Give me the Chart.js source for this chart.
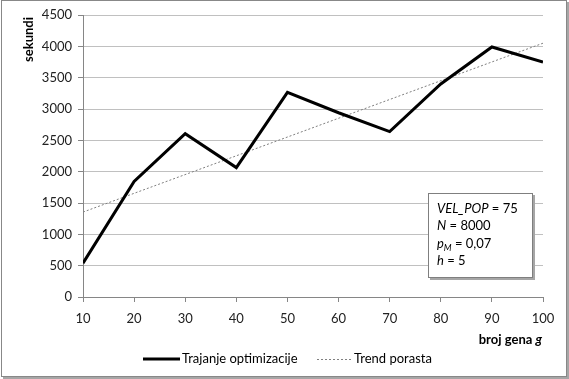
<!DOCTYPE html>
<html>
<head>
<meta charset="utf-8">
<script src="https://cdn.jsdelivr.net/npm/chart.js@4"></script>
<style>
  body { margin: 0; background: #fff; }
  #wrap { width: 569px; height: 379px; position: relative; }
</style>
</head>
<body>
<div id="wrap"><canvas id="myChart" width="569" height="379"></canvas></div>
<script>
let genes = [10, 20, 30, 40, 50, 60, 70, 80, 90, 100];
let seconds = [540, 1845, 2605, 2065, 3265, 2940, 2640, 3400, 3990, 3750];
let trendX = [10, 100];
let trendY = [1355, 4050];
let infoLines = [
  [["VEL_POP", "i"], [" = 75", ""]],
  [["N", "i"], [" = 8000", ""]],
  [["p", "i"], ["M", "sub"], [" = 0,07", ""]],
  [["h", "i"], [" = 5", ""]]
];
let fontName = "Lato, 'Open Sans', sans-serif";

let ctx = document.getElementById("myChart");

function pts(xs, ys) {
  return xs.map((x, i) => ({ x: x, y: ys[i] }));
}

const decor = {
  id: "decor",
  beforeDraw(chart) {
    let c = chart.ctx;
    c.save();
    c.fillStyle = "#fff";
    c.fillRect(0, 0, 569, 379);
    c.fillStyle = "#a6a6a6";
    c.fillRect(3, 377, 566, 2);
    c.fillRect(567, 2, 2, 377);
    c.strokeStyle = "#888";
    c.lineWidth = 1;
    c.strokeRect(1.5, 0.5, 565, 376);
    c.restore();
  },
  afterDraw(chart) {
    let c = chart.ctx;
    c.save();
    c.fillStyle = "#000";

    // y title
    c.save();
    c.translate(29, 17);
    c.rotate(-Math.PI / 2);
    c.font = "bold 13px " + fontName;
    c.textAlign = "right";
    c.textBaseline = "middle";
    c.fillText("sekundi", 0, 0);
    c.restore();

    // x title
    c.font = "bold italic 13px " + fontName;
    let gW = c.measureText("g").width;
    c.textBaseline = "alphabetic";
    c.textAlign = "right";
    c.fillText("g", 542, 344);
    c.font = "bold 13px " + fontName;
    c.fillText("broj gena ", 542 - gW, 344);

    // legend
    c.textAlign = "left";
    c.textBaseline = "middle";
    c.font = "13px " + fontName;
    c.strokeStyle = "#000";
    c.lineWidth = 3;
    c.beginPath();
    c.moveTo(143, 359);
    c.lineTo(180, 359);
    c.stroke();
    c.fillText("Trajanje optimizacije", 182, 359);
    c.strokeStyle = "#808080";
    c.lineWidth = 1;
    c.setLineDash([2, 2]);
    c.beginPath();
    c.moveTo(317, 359.5);
    c.lineTo(351, 359.5);
    c.stroke();
    c.setLineDash([]);
    c.fillText("Trend porasta", 354, 359);

    // info box
    c.fillStyle = "#a6a6a6";
    c.fillRect(430, 195, 105, 85);
    c.fillStyle = "#fff";
    c.fillRect(428, 193, 105, 85);
    c.strokeStyle = "#7f7f7f";
    c.strokeRect(428.5, 193.5, 104, 84);
    c.fillStyle = "#000";
    c.textBaseline = "alphabetic";
    infoLines.forEach((line, i) => {
      let x = 437;
      let y = 213 + i * 17.3;
      line.forEach(part => {
        if (part[1] === "sub") {
          c.font = "italic 9px " + fontName;
          c.fillText(part[0], x, y + 3);
        } else {
          c.font = (part[1] === "i" ? "italic " : "") + "13px " + fontName;
          c.fillText(part[0], x, y);
        }
        x += c.measureText(part[0]).width;
      });
    });
    c.restore();
  }
};

let myLineChart = new Chart(ctx, {
  type: "line",
  data: {
    datasets: [
      {
        label: "Trajanje optimizacije",
        data: pts(genes, seconds),
        borderColor: "#000",
        borderWidth: 3,
        pointRadius: 0,
        tension: 0,
        fill: false
      },
      {
        label: "Trend porasta",
        data: pts(trendX, trendY),
        borderColor: "#808080",
        borderWidth: 1,
        borderDash: [2, 2],
        pointRadius: 0,
        fill: false
      }
    ]
  },
  options: {
    responsive: false,
    animation: false,
    layout: { padding: { top: 15, right: 26, left: 0, bottom: 0 } },
    plugins: {
      legend: { display: false },
      tooltip: { enabled: false }
    },
    scales: {
      x: {
        type: "linear",
        min: 10,
        max: 100,
        afterFit: s => { s.height = 82; },
        ticks: {
          stepSize: 10, padding: 9, color: "#222",
          font: { family: fontName, size: 13 },
          callback: v => String(v)
        },
        grid: { drawOnChartArea: false, tickLength: 5, color: "#868686" },
        border: { color: "#868686" }
      },
      y: {
        min: 0,
        max: 4500,
        afterFit: s => { s.width = 83; },
        ticks: {
          stepSize: 500, padding: 6, color: "#222",
          font: { family: fontName, size: 13 },
          callback: v => String(v)
        },
        grid: { color: "#c0c0c0", tickLength: 5, tickColor: "#868686" },
        border: { color: "#868686" }
      }
    }
  },
  plugins: [decor]
});
</script>
</body>
</html>
